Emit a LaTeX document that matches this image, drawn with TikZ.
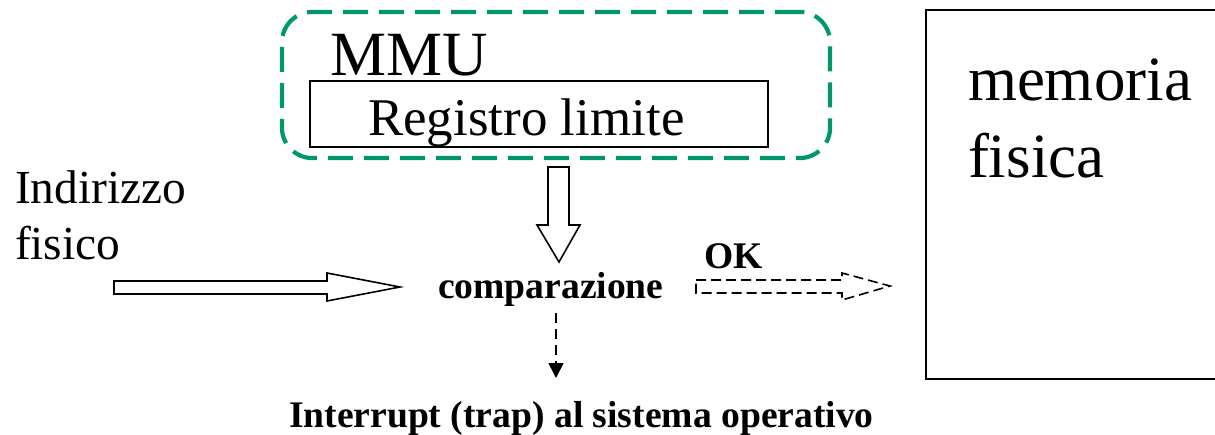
\documentclass[tikz,border=0pt]{standalone}
\usepackage{fontspec}
\setmainfont{Liberation Serif}
\usetikzlibrary{positioning, arrows.meta}
\definecolor{mmugreen}{RGB}{0,150,110}

\begin{document}
\begin{tikzpicture}[x=0.5pt, y=-0.5pt, line join=miter,
    every node/.style={inner sep=0pt, outer sep=0pt},
    bigtext/.style={font=\fontsize{31.5}{38}\selectfont, anchor=base west},
    midtext/.style={font=\fontsize{23.7}{28}\selectfont, anchor=base west},
    boldtext/.style={font=\bfseries\fontsize{18.8}{22}\selectfont, anchor=base west},
    hollow/.style={draw, line width=0.8pt, fill=white},
    okdash/.style={hollow, dash pattern=on 5pt off 2.5pt}]
    \useasboundingbox (0,0) rectangle (1215,434);
    \clip (0,0) rectangle (1215,434);
    % MMU with the limit register
    \node[draw=mmugreen, line width=2.1pt, dash pattern=on 12.5pt off 5.5pt,
          rounded corners=15pt, anchor=north west,
          minimum width=274pt, minimum height=73pt] (mmu) at (282,12) {};
    \node[bigtext] (mmut) at (330,75) {MMU};
    \node[draw, line width=0.8pt, anchor=north west,
          minimum width=229pt, minimum height=33pt] (reg) at (310,81) {};
    \node[font=\fontsize{26.5}{32}\selectfont, anchor=base west] (regt) at (368,135) {Registro limite};
    % physical memory
    \node[draw, line width=1pt, anchor=north west,
          minimum width=160pt, minimum height=184.5pt] (mem) at (926,10) {};
    \node[bigtext] (memt) at (968,100) {memoria};
    \node[bigtext] (fist) at (968,177) {fisica};
    % texts
    \node[midtext] (ind) at (15,203) {Indirizzo};
    \node[midtext] (indf) at (15,259) {fisico};
    \node[boldtext] (cmp) at (438,298) {comparazione};
    \node[boldtext] (ok) at (704,268) {OK};
    \node[boldtext] (trap) at (289,427) {Interrupt (trap) al sistema operativo};
    % arrows
    \draw[hollow] (114,281) -- (327,281) -- (327,273) -- (400,287) -- (327,301)
        -- (327,294) -- (114,294) -- cycle;
    \draw[hollow] (548,167) -- (569,167) -- (569,225) -- (580,225) -- (559,262)
        -- (537,225) -- (548,225) -- cycle;
    \draw[okdash] (696,280) -- (842,280) -- (842,273) -- (890,286) -- (842,300)
        -- (842,293) -- (696,293) -- cycle;
    \coordinate (trapout) at (556,313);
    \coordinate (trapin) at (556,378);
    \draw[-{Triangle[length=7.5pt,width=7.5pt]}, line width=0.8pt,
          dash pattern=on 5pt off 3pt] (trapout) -- (trapin);
\end{tikzpicture}
\end{document}
